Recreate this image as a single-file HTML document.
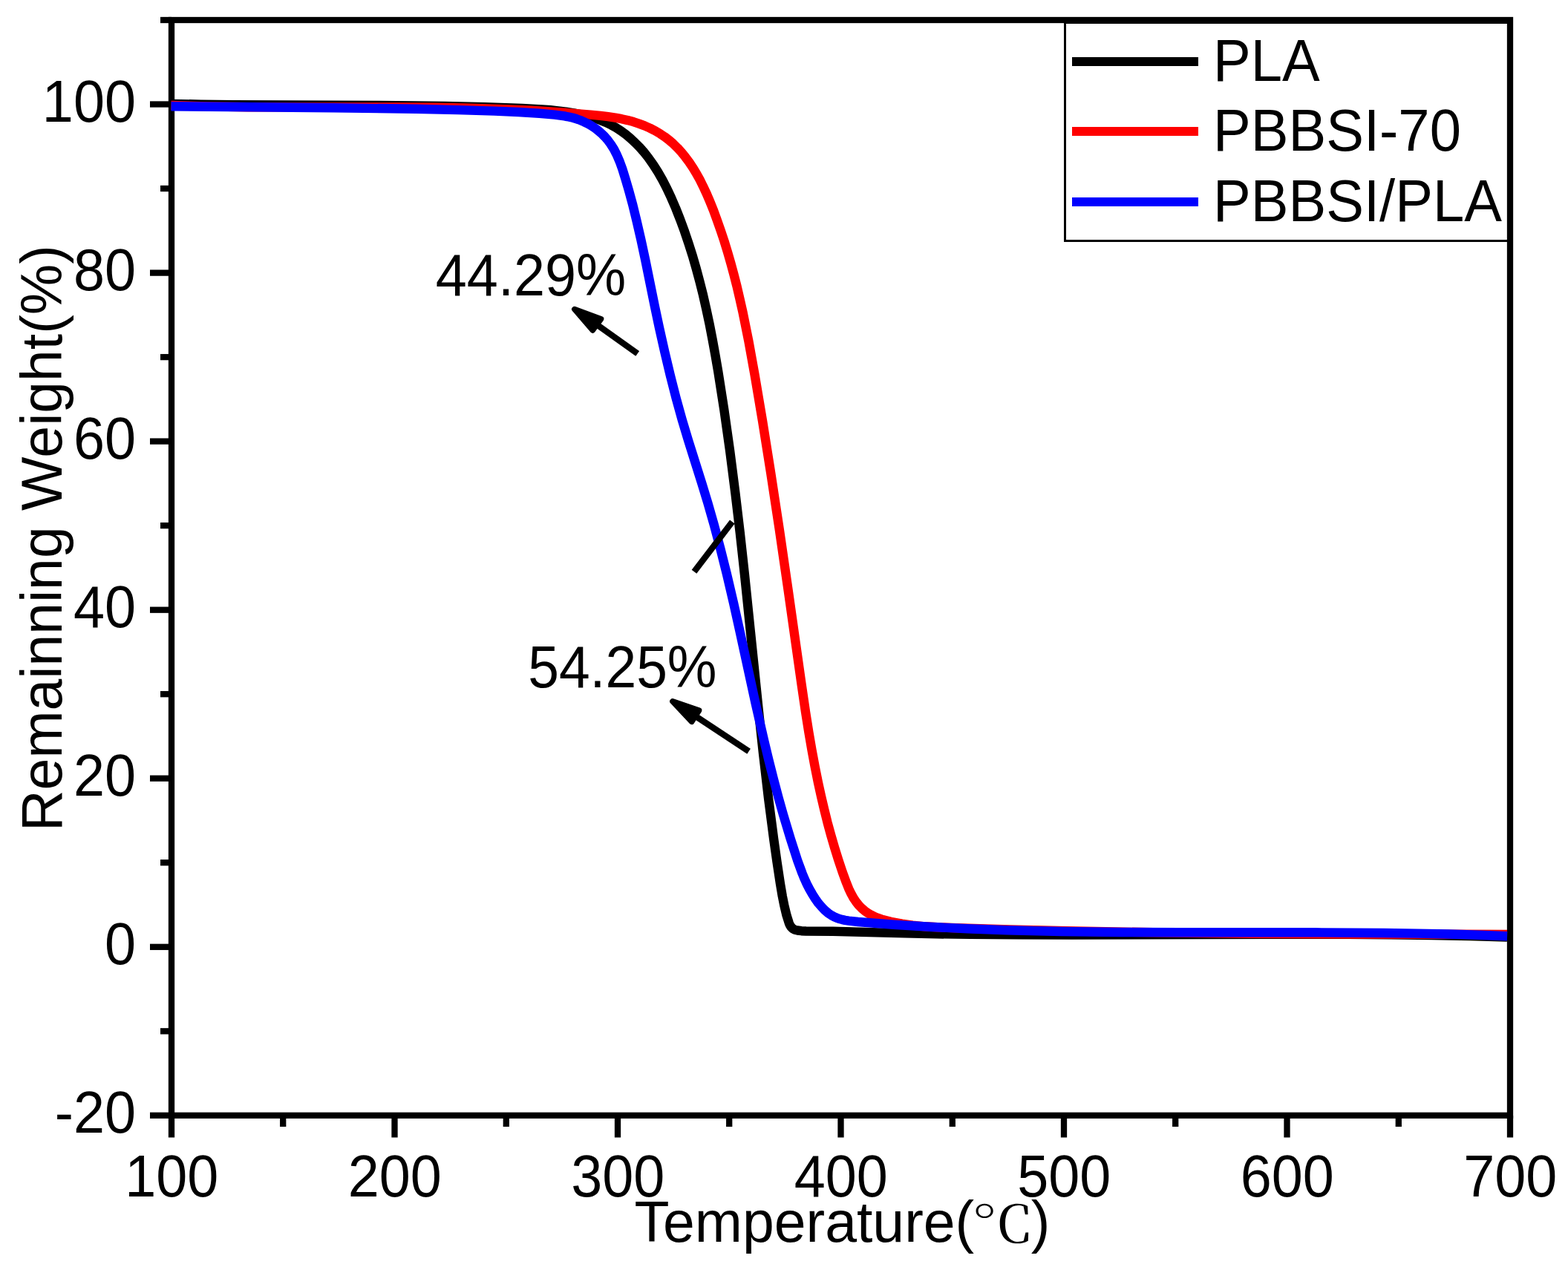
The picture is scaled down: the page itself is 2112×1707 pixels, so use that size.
<!DOCTYPE html>
<html lang="en">
<head>
<meta charset="utf-8">
<title>TGA curves of PLA, PBBSI-70 and PBBSI/PLA</title>
<style>
html,body{margin:0;padding:0;background:#fff;}
body{width:2112px;height:1707px;overflow:hidden;}
main,figure{display:block;margin:0;padding:0;width:2112px;height:1707px;}
svg{display:block;}
text{font-family:"Liberation Sans", "Noto Sans CJK SC", sans-serif;font-size:78.3px;fill:#000;}
text.n{font-size:79.3px;}
text.deg{font-family:"Noto Serif CJK SC","Liberation Serif",serif;font-size:68px;}
.ax{stroke:#000;stroke-width:8.3;fill:none;stroke-linecap:butt;}
.cv{fill:none;stroke-width:12.4;stroke-linejoin:round;stroke-linecap:butt;}
</style>
</head>
<body>
<main>
<figure>
<svg width="2112" height="1707" viewBox="0 0 2112 1707" aria-label="Thermogravimetric curves: remaining weight versus temperature">
<rect x="0" y="0" width="2112" height="1707" fill="#ffffff"/>
<!-- legend box (below the frame so the frame stays continuous) -->
<rect x="1434.5" y="30.5" width="598.5" height="294" fill="#fff" stroke="#000" stroke-width="3"/>
<!-- axes frame and ticks -->
<g class="ax">
<rect x="231.0" y="27.0" width="1803.0" height="1475.8"/>
<line x1="202" y1="1502.8" x2="231.0" y2="1502.8"/>
<line x1="216" y1="1389.3" x2="231.0" y2="1389.3"/>
<line x1="202" y1="1275.8" x2="231.0" y2="1275.8"/>
<line x1="216" y1="1162.2" x2="231.0" y2="1162.2"/>
<line x1="202" y1="1048.7" x2="231.0" y2="1048.7"/>
<line x1="216" y1="935.2" x2="231.0" y2="935.2"/>
<line x1="202" y1="821.7" x2="231.0" y2="821.7"/>
<line x1="216" y1="708.1" x2="231.0" y2="708.1"/>
<line x1="202" y1="594.6" x2="231.0" y2="594.6"/>
<line x1="216" y1="481.1" x2="231.0" y2="481.1"/>
<line x1="202" y1="367.6" x2="231.0" y2="367.6"/>
<line x1="216" y1="254.0" x2="231.0" y2="254.0"/>
<line x1="202" y1="140.5" x2="231.0" y2="140.5"/>
<line x1="216" y1="27.0" x2="231.0" y2="27.0"/>
<line x1="231.0" y1="1502.8" x2="231.0" y2="1532.5"/>
<line x1="381.2" y1="1502.8" x2="381.2" y2="1518"/>
<line x1="531.5" y1="1502.8" x2="531.5" y2="1532.5"/>
<line x1="681.8" y1="1502.8" x2="681.8" y2="1518"/>
<line x1="832.0" y1="1502.8" x2="832.0" y2="1532.5"/>
<line x1="982.2" y1="1502.8" x2="982.2" y2="1518"/>
<line x1="1132.5" y1="1502.8" x2="1132.5" y2="1532.5"/>
<line x1="1282.8" y1="1502.8" x2="1282.8" y2="1518"/>
<line x1="1433.0" y1="1502.8" x2="1433.0" y2="1532.5"/>
<line x1="1583.2" y1="1502.8" x2="1583.2" y2="1518"/>
<line x1="1733.5" y1="1502.8" x2="1733.5" y2="1532.5"/>
<line x1="1883.8" y1="1502.8" x2="1883.8" y2="1518"/>
<line x1="2034.0" y1="1502.8" x2="2034.0" y2="1532.5"/>
</g>
<!-- data curves: PLA (black), PBBSI-70 (red), PBBSI/PLA (blue) -->
<g>
<polyline class="cv" stroke="#000000" points="230.5,139.9 270.8,140.6 314.5,141.1 511.0,142.0 557.5,142.4 599.2,143.0 653.0,144.3 703.4,146.0 730.2,147.4 741.6,148.3 751.6,149.3 762.3,150.7 772.9,152.4 782.8,154.4 792.0,156.6 800.4,159.1 808.7,161.9 816.2,165.0 823.4,168.5 829.9,172.1 836.6,176.5 843.1,181.3 849.3,186.5 855.7,192.5 861.8,198.7 867.5,205.2 873.3,212.5 879.9,221.8 886.0,231.4 892.3,242.4 898.2,253.8 904.2,266.7 910.1,280.4 916.3,296.1 922.1,311.9 927.5,327.9 932.8,344.6 937.8,362.0 942.5,379.5 947.1,397.8 951.4,416.8 955.6,436.5 959.7,457.7 963.4,478.2 967.3,500.7 975.4,552.6 983.1,607.2 990.5,665.1 996.7,717.2 1003.0,774.7 1021.6,955.5 1028.0,1015.1 1035.1,1076.0 1042.2,1130.6 1046.5,1161.1 1051.0,1190.9 1053.8,1207.4 1056.3,1219.9 1059.5,1233.2 1062.8,1243.7 1063.9,1246.2 1065.3,1248.5 1067.0,1250.4 1068.5,1251.6 1070.8,1252.8 1074.1,1253.5 1079.5,1254.2 1085.6,1254.5 1121.9,1254.7 1219.4,1257.4 1262.4,1258.3 1307.5,1258.9 1372.1,1259.4 1443.4,1259.6 1706.6,1258.7 1815.6,1258.8 1874.1,1259.3 1928.5,1260.0 1980.3,1261.1 2030.0,1262.5"/>
<polyline class="cv" stroke="#ff0000" points="230.5,142.0 279.8,143.4 333.7,144.2 389.0,144.4 539.2,144.5 584.0,144.8 624.8,145.5 671.5,146.9 714.9,148.8 756.2,151.4 795.6,154.6 808.7,155.9 819.1,157.2 828.8,158.6 837.2,160.2 845.5,162.1 853.1,164.1 860.6,166.6 868.1,169.4 875.4,172.6 882.5,176.2 889.3,180.3 895.3,184.3 901.1,188.7 907.0,193.8 912.6,199.3 917.9,205.1 923.2,211.7 928.3,218.5 933.0,225.6 937.8,233.4 942.6,242.1 947.0,250.9 951.5,260.5 955.9,270.8 960.9,283.1 965.9,296.8 970.7,310.5 975.5,324.9 979.9,339.3 984.3,354.5 988.4,369.7 992.5,385.6 996.5,402.8 1000.5,420.7 1008.3,459.3 1016.5,504.6 1027.0,566.9 1038.2,637.2 1049.8,713.5 1061.7,795.6 1079.5,921.3 1085.1,959.6 1089.3,986.1 1093.4,1010.0 1097.6,1032.6 1102.0,1054.5 1106.1,1073.1 1110.3,1091.0 1114.6,1108.3 1119.3,1125.5 1124.1,1142.0 1129.2,1158.4 1134.7,1174.9 1140.0,1189.3 1143.2,1197.3 1146.3,1203.8 1149.4,1209.5 1153.0,1214.9 1156.5,1219.4 1160.5,1223.5 1164.9,1227.3 1169.7,1230.6 1173.7,1232.9 1177.8,1234.9 1182.1,1236.7 1187.1,1238.4 1192.9,1240.0 1200.0,1241.8 1214.9,1244.7 1229.3,1246.7 1245.7,1248.3 1263.4,1249.3 1287.7,1250.2 1360.7,1252.4 1436.4,1254.2 1515.4,1255.7 1598.9,1256.9 1684.5,1257.7 1778.6,1258.3 2030.0,1259.0"/>
<polyline class="cv" stroke="#0000ff" points="230.5,143.3 449.3,145.2 560.1,146.8 616.7,148.1 666.0,149.6 698.5,151.0 726.5,152.8 747.4,154.6 760.4,156.4 766.1,157.5 771.8,158.8 776.8,160.3 781.7,162.0 786.5,164.1 791.8,166.7 796.9,169.6 801.8,172.9 806.4,176.5 810.8,180.4 814.9,184.5 818.3,188.4 822.9,194.6 827.0,201.1 830.8,208.6 834.6,217.5 838.2,227.4 842.3,240.6 847.1,256.9 851.9,274.6 857.5,297.4 863.3,322.7 869.2,350.1 881.7,411.8 887.9,441.1 895.3,474.2 902.7,505.3 910.6,536.2 918.6,565.1 927.2,593.8 945.6,652.2 953.4,677.7 961.8,707.1 970.2,738.6 978.9,773.3 988.1,812.6 996.6,850.8 1017.5,947.0 1029.1,997.7 1035.6,1024.8 1042.0,1050.0 1048.5,1074.5 1055.0,1097.7 1064.6,1129.5 1074.2,1159.3 1080.5,1176.5 1083.5,1183.8 1086.7,1190.9 1090.3,1197.9 1094.2,1204.7 1098.1,1210.9 1102.3,1216.8 1106.6,1221.8 1110.6,1226.0 1115.0,1229.8 1119.6,1233.0 1122.9,1234.8 1126.3,1236.4 1129.8,1237.7 1134.0,1238.9 1138.3,1239.9 1143.4,1240.7 1155.8,1242.0 1203.6,1245.7 1252.7,1248.8 1303.7,1251.3 1357.1,1253.2 1430.0,1255.0 1511.3,1256.0 1588.6,1256.3 1771.7,1256.3 1864.2,1257.0 1908.5,1257.6 1950.9,1258.5 1991.5,1259.7 2030.1,1261.2"/>
</g>
<!-- tick labels -->
<g>
<text class="n" transform="translate(183.0,163.6) scale(0.9533,1)" text-anchor="end">100</text>
<text class="n" transform="translate(183.0,390.7) scale(0.9533,1)" text-anchor="end">80</text>
<text class="n" transform="translate(183.0,617.7) scale(0.9533,1)" text-anchor="end">60</text>
<text class="n" transform="translate(183.0,844.8) scale(0.9533,1)" text-anchor="end">40</text>
<text class="n" transform="translate(183.0,1071.8) scale(0.9533,1)" text-anchor="end">20</text>
<text class="n" transform="translate(183.0,1298.9) scale(0.9533,1)" text-anchor="end">0</text>
<text class="n" transform="translate(183.0,1525.9) scale(0.9533,1)" text-anchor="end">-20</text>
<text class="n" transform="translate(231.2,1612.2) scale(0.9533,1)" text-anchor="middle">100</text>
<text class="n" transform="translate(531.7,1612.2) scale(0.9533,1)" text-anchor="middle">200</text>
<text class="n" transform="translate(832.2,1612.2) scale(0.9533,1)" text-anchor="middle">300</text>
<text class="n" transform="translate(1132.7,1612.2) scale(0.9533,1)" text-anchor="middle">400</text>
<text class="n" transform="translate(1433.2,1612.2) scale(0.9533,1)" text-anchor="middle">500</text>
<text class="n" transform="translate(1733.7,1612.2) scale(0.9533,1)" text-anchor="middle">600</text>
<text class="n" transform="translate(2034.2,1612.2) scale(0.9533,1)" text-anchor="middle">700</text>
</g>
<!-- axis titles -->
<g>
<text transform="translate(854.5,1672.8) scale(0.9833,1)">Temperature(</text>
<text class="deg" transform="translate(1308.3,1674) scale(1.25,1)">℃</text>
<text transform="translate(1388.7,1672.8) scale(0.9833,1)">)</text>
<text transform="translate(83.2,1120) rotate(-90) scale(0.9831,1)">Remainning Weight(%)</text>
</g>
<!-- legend entries -->
<g>
<line x1="1444" y1="83" x2="1614" y2="83" stroke="#000000" stroke-width="12"/>
<text class="n" transform="translate(1634.0,108.8) scale(0.9592,1)">PLA</text>
<line x1="1444" y1="177" x2="1614" y2="177" stroke="#ff0000" stroke-width="12"/>
<text class="n" transform="translate(1634.0,202.8) scale(0.9592,1)">PBBSI-70</text>
<line x1="1444" y1="272" x2="1614" y2="272" stroke="#0000ff" stroke-width="12"/>
<text class="n" transform="translate(1634.0,297.8) scale(0.9592,1)">PBBSI/PLA</text>
</g>
<!-- annotations -->
<g>
<text class="n" transform="translate(586.8,398.1) scale(0.9533,1)">44.29%</text>
<text class="n" transform="translate(711.2,926.0) scale(0.9458,1)">54.25%</text>
<line x1="858.7" y1="476.3" x2="804.0" y2="437.4" stroke="#000" stroke-width="8.3"/>
<polygon points="773.8,416.5 809.6,429.8 798.3,445.0" fill="#000" stroke="#000" stroke-width="7.5" stroke-linejoin="round"/>
<line x1="1008.6" y1="1012.3" x2="936.7" y2="964.8" stroke="#000" stroke-width="8.3"/>
<polygon points="905.9,944.9 941.6,957.1 931.7,972.4" fill="#000" stroke="#000" stroke-width="7.5" stroke-linejoin="round"/>
<line x1="935" y1="770.2" x2="986.3" y2="703" stroke="#000" stroke-width="8.3"/>
</g>
</svg>
</figure>
</main>
</body>
</html>
